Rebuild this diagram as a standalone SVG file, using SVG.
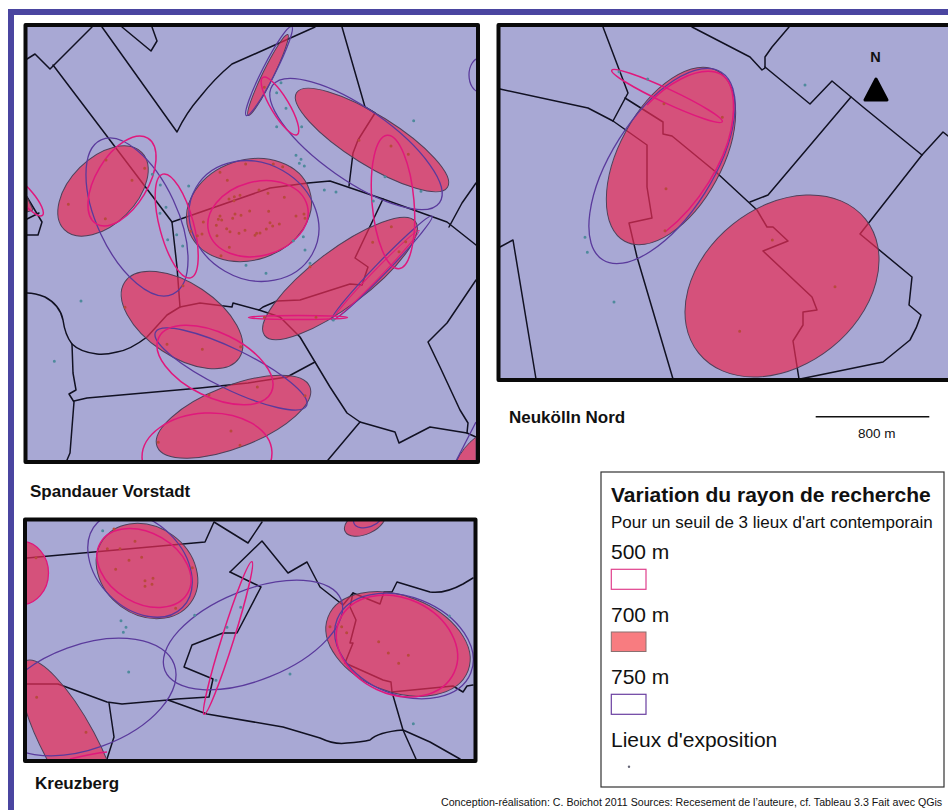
<svg xmlns="http://www.w3.org/2000/svg" width="948" height="810" viewBox="0 0 948 810">
<style>
text{font-family:"Liberation Sans",Arial,sans-serif;fill:#111}
.b{font-weight:bold}
.base{fill:#a8a8d4}
.frame{fill:none;stroke:#0a0a0a;stroke-width:4;stroke-linejoin:round}
.l{fill:none;stroke:#111122;stroke-width:1.5;stroke-linejoin:round;stroke-linecap:round}
.r{fill:#e82c56;fill-opacity:.7;stroke:#50405a;stroke-width:1}
.p{fill:none;stroke:#e0187c;stroke-width:1.5}
.v{fill:none;stroke:#5a3a9c;stroke-width:1.3}
.dt{fill:none;stroke:#4f8a9c;stroke-width:9;stroke-linecap:round}
.dr{fill:none;stroke:#b84a3c;stroke-width:9;stroke-linecap:round}
</style>
<defs>
<clipPath id="c1"><rect x="25.5" y="25" width="452.5" height="437"/></clipPath>
<clipPath id="c2"><rect x="498.5" y="25" width="460" height="355"/></clipPath>
<clipPath id="c3"><rect x="25" y="519.5" width="450.5" height="241.5"/></clipPath>
</defs>
<rect width="948" height="810" fill="#fff"/>
<path d="M11 810V12H948" fill="none" stroke="#4a45a0" stroke-width="6"/>

<g id="map-spandauer">
<rect class="base" x="25.5" y="25" width="452.5" height="437"/>
<g clip-path="url(#c1)">
<g id="spandauer-limits" class="l">
<path d="M27 59L35 54L50 69L92 27"/>
<path d="M53 65L172 222L177 267L180 307"/>
<path d="M102 27L177 132Q186 113 200 97Q215 78 232 64L257 53L315 27"/>
<path d="M122 27L151 51L157 41L152 27"/>
<path d="M342 27L365 107L375 113L358 140L353 153L349 186"/>
<path d="M172 222L270 188L308 183L330 181L383 199L447 222L476 245"/>
<path d="M383 199L355 258L368 267L362 285L350 284L300 300L277 301L263 307L259 310L233 303L232 307L200 303L180 307L167 315L147 337Q130 350 117 352Q105 355 97 354Q80 352 72 344Q65 335 63 320Q60 305 45 297Q35 293 27 293"/>
<path d="M72 344L73 373L76 390L69 394L74 402L70 453L67 460"/>
<path d="M74 401L87 398L200 388L248 383L287 377L315 362"/>
<path d="M259 310L280 317L300 337L315 362L330 387L347 413L360 422L395 432L399 443L430 427L467 433L476 437"/>
<path d="M360 422L328 460"/>
<path d="M476 280L447 323L428 342L440 367L460 410L468 423L467 433"/>
<path d="M449 227L462 203L476 183"/>
<path d="M27 197L42 222L38 235L27 235M27 219L39 213"/>
</g>
<g id="spandauer-700">
<ellipse class="r" cx="103" cy="191" rx="54.700" ry="33" transform="rotate(-45 103 191)"/>
<ellipse class="r" cx="249" cy="210" rx="63.700" ry="50" transform="rotate(-18.500 249 210)"/>
<ellipse class="r" cx="372" cy="140" rx="89" ry="25" transform="rotate(32 372 140)"/>
<ellipse class="r" cx="268" cy="75" rx="45" ry="5.500" transform="rotate(-64 268 75)"/>
<ellipse class="r" cx="182" cy="320" rx="68.700" ry="36.600" transform="rotate(33.600 182 320)"/>
<ellipse class="r" cx="340" cy="278.500" rx="94.500" ry="28" transform="rotate(-37 340 278.500)"/>
<ellipse class="r" cx="233.500" cy="416.700" rx="82" ry="31" transform="rotate(-21.300 233.500 416.700)"/>
<path class="r" d="M456 462Q463 447 476 437V462Z"/>
<path class="r" d="M27 197L33 210L27 212Z"/>
</g>
<g id="spandauer-750">
<ellipse class="v" cx="137" cy="217" rx="85" ry="40" transform="rotate(65 137 217)"/>
<ellipse class="v" cx="254" cy="221" rx="67" ry="58" transform="rotate(30 254 221)"/>
<ellipse class="v" cx="356" cy="144" rx="102" ry="36" transform="rotate(35 356 144)"/>
<ellipse class="v" cx="269" cy="71" rx="50" ry="6.500" transform="rotate(-63 269 71)"/>
<ellipse class="v" cx="480" cy="75" rx="11" ry="17"/>
<ellipse class="v" cx="231" cy="369" rx="84" ry="20" transform="rotate(26 231 369)"/>
<ellipse class="v" cx="382" cy="268" rx="72" ry="6" transform="rotate(-46 382 268)"/>
<path class="v" d="M456 461L476 422"/>
</g>
<g id="spandauer-500">
<ellipse class="p" cx="122" cy="181" rx="50" ry="26" transform="rotate(-59 122 181)"/>
<ellipse class="p" cx="176.700" cy="226" rx="53.700" ry="17" transform="rotate(75 176.700 226)"/>
<ellipse class="p" cx="258" cy="218.700" rx="51" ry="37" transform="rotate(-15 258 218.700)"/>
<ellipse class="p" cx="280" cy="106" rx="33.300" ry="9" transform="rotate(59 280 106)"/>
<ellipse class="p" cx="393" cy="202" rx="67" ry="21" transform="rotate(85 393 202)"/>
<ellipse class="p" cx="27" cy="197" rx="24" ry="7" transform="rotate(50 27 197)"/>
<ellipse class="p" cx="298" cy="317.500" rx="49.500" ry="2"/>
<ellipse class="p" cx="215" cy="365" rx="62.600" ry="32" transform="rotate(26 215 365)"/>
<ellipse class="p" cx="207" cy="455" rx="65" ry="42" transform="rotate(-3 207 455)"/>
<ellipse class="p" cx="376" cy="275" rx="62" ry="4" transform="rotate(-46 376 275)" style="stroke-width:1"/>
</g>
<g id="spandauer-lieux">
<path transform="scale(.33333)" class="dr" d="M318 480h0M434 505h0M396 541h0M205 613h0M316 656h0M660 517h0M737 492h0M820 492h0M848 500h0M682 541h0M777 570h0M804 580h0M853 592h0M687 597h0M703 590h0M720 586h0M702 602h0M749 633h0M806 634h0M723 646h0M705 642h0M698 655h0M660 648h0M665 660h0M655 658h0M610 666h0M649 676h0M680 686h0M690 695h0M735 691h0M717 700h0M651 707h0M606 702h0M592 707h0M572 694h0M688 742h0M663 767h0M770 700h0M765 706h0M780 699h0M799 687h0M818 678h0M838 672h0M810 668h0M888 648h0M912 642h0M915 655h0M1173 438h0M1225 463h0M1077 421h0M793 262h0M1174 680h0M1118 727h0M1197 755h0M1217 725h0M930 800h0"/>
<path transform="translate(0 250) scale(.33333)" class="dr" d="M549 107h0M375 172h0M501 283h0M607 298h0M722 290h0M772 411h0M627 435h0M915 437h0M693 543h0M720 586h0M475 577h0M948 202h0M793 202h0"/>
<path transform="scale(.33333)" class="dt" d="M843 248h0M830 278h0M858 325h0M830 380h0M905 380h0M1241 362h0M888 466h0M903 478h0M898 490h0M913 498h0M973 570h0M1008 576h0M1155 530h0M1263 574h0M1120 603h0M457 523h0M481 555h0M498 622h0M480 640h0M566 558h0M530 704h0M503 719h0M548 738h0M910 710h0M880 722h0M915 750h0M738 796h0M798 820h0M930 790h0"/>
<path transform="translate(0 250) scale(.33333)" class="dt" d="M243 153h0M163 334h0M1000 210h0"/>
</g>
</g>
<rect class="frame" x="25.500" y="25" width="452.500" height="437"/>
</g>

<g id="map-neukolln">
<rect class="base" x="498.500" y="25" width="460" height="355"/>
<g clip-path="url(#c2)">
<g id="neukolln-limits" class="l">
<path d="M603 27L628 93L613 121"/>
<path d="M500 89L588 108L613 121L647 145L647 187L652 218L629 223L637 257L673 379"/>
<path d="M625 98L663 122L663 134L672 136L717 173L757 210L767 227L773 227L788 241L763 251L812 297L817 310L803 312L803 325L793 341L799 379"/>
<path d="M692 27L750 57L762 70L765 68L765 57L772 47L789 27"/>
<path d="M765 67L810 104L832 81L863 107L922 155L943 132L948 136"/>
<path d="M851 97L768 195L750 202"/>
<path d="M922 155L860 234L912 277L909 305L921 315Q917 328 910 340L883 362L800 379"/>
<path d="M500 247L513 240L536 379"/>
</g>
<g id="neukolln-700">
<ellipse class="r" cx="782" cy="286" rx="107" ry="79" transform="rotate(-38.700 782 286)"/>
<ellipse class="r" cx="671" cy="156" rx="97" ry="51.400" transform="rotate(-61.500 671 156)"/>
</g>
<g id="neukolln-750"><ellipse class="v" cx="662" cy="166" rx="111" ry="50.600" transform="rotate(-57.700 662 166)"/></g>
<g id="neukolln-500">
<path class="p" d="M647 105C668 83 695 68 715 72C735 76 736 105 731 130C725 160 700 205 665 232"/>
<ellipse class="p" cx="667" cy="96" rx="61" ry="7" transform="rotate(25 667 96)"/>
</g>
<g id="neukolln-lieux">
<path transform="translate(490 10) scale(.33333)" class="dr" d="M522 281h0M697 322h0M528 536h0M525 662h0M847 690h0M1035 830h0M749 964h0"/>
<path transform="translate(490 10) scale(.33333)" class="dt" d="M945 225h0M473 207h0M387 185h0M285 682h0M292 727h0M372 876h0"/>
</g>
</g>
<rect class="frame" x="498.500" y="25" width="460" height="355"/>
</g>

<g id="map-kreuzberg">
<rect class="base" x="25" y="519.500" width="450.500" height="241.500"/>
<g clip-path="url(#c3)">
<g id="kreuzberg-limits" class="l">
<path d="M27 558L205 542L214 522L248 543L262 522"/>
<path d="M230 572L262 541L288 573L307 562L320 587L343 605L353 593L380 604L384 592L392 592L397 582L430 592Q445 594 463 584L473 578"/>
<path d="M230 572L261 587L237 633L223 633L192 645L184 667L213 679L209 697L177 699L168 700L122 704L107 702L58 684L27 684"/>
<path d="M168 700L207 714L283 727L320 738Q335 745 347 743Q362 742 370 740Q378 732 403 730L430 742L460 759"/>
<path d="M392 692L403 730L416 759"/>
<path d="M109 703L114 737L107 759"/>
<path d="M353 593L350 607L356 620L350 643L353 643L345 663L383 680L391 682L392 692L453 686L463 692L467 686L473 685"/>
</g>
<g id="kreuzberg-700">
<ellipse class="r" cx="147" cy="571" rx="54" ry="44" transform="rotate(36 147 571)"/>
<ellipse class="r" cx="20" cy="573" rx="28.500" ry="32" style="stroke:#e0187c;stroke-width:1.300"/>
<ellipse class="r" cx="398" cy="644" rx="75" ry="48" transform="rotate(21 398 644)"/>
<ellipse class="r" cx="365" cy="522" rx="22" ry="12" transform="rotate(-25 365 522)"/>
<ellipse class="r" cx="70" cy="745" rx="95" ry="27" transform="rotate(62 70 745)"/>
</g>
<g id="kreuzberg-750">
<ellipse class="v" cx="140" cy="565" rx="60" ry="43" transform="rotate(45 140 565)"/>
<ellipse class="v" cx="253" cy="635" rx="95" ry="45" transform="rotate(-22 253 635)"/>
<ellipse class="v" cx="85" cy="697" rx="95" ry="52" transform="rotate(-20 85 697)"/>
<ellipse class="v" cx="404" cy="646" rx="72" ry="49" transform="rotate(22 404 646)"/>
<ellipse class="v" cx="368" cy="518" rx="15" ry="9" transform="rotate(-20 368 518)"/>
</g>
<g id="kreuzberg-500">
<ellipse class="p" cx="144" cy="568" rx="50.400" ry="35" transform="rotate(30 144 568)"/>
<ellipse class="p" cx="228" cy="638" rx="80" ry="6" transform="rotate(-72.600 228 638)"/>
<ellipse class="p" cx="397" cy="646" rx="63" ry="48" transform="rotate(25 397 646)"/>
<path class="p" d="M70 759Q95 753 107 752"/>
</g>
<g id="kreuzberg-lieux">
<path transform="translate(0 510) scale(.33333)" class="dr" d="M342 57h0M405 94h0M322 116h0M360 116h0M387 151h0M425 142h0M347 178h0M435 212h0M459 205h0M435 229h0M456 223h0M577 173h0M527 295h0M108 143h0M110 562h0M258 667h0M990 350h0M1040 368h0M1025 350h0M1136 395h0M1165 429h0M1225 436h0M1196 460h0"/>
<path transform="translate(0 510) scale(.33333)" class="dt" d="M308 62h0M363 332h0M378 352h0M370 367h0M386 486h0M584 316h0M722 292h0M681 352h0M648 511h0M1348 318h0M1240 641h0M870 492h0"/>
</g>
</g>
<rect class="frame" x="25" y="519.500" width="450.500" height="241.500"/>
</g>

<g id="north">
<text class="b" x="875.500" y="62" font-size="14.500" text-anchor="middle">N</text>
<path d="M876 79L887 100H865Z" fill="#000" stroke="#000" stroke-width="3" stroke-linejoin="round"/>
</g>
<g id="scale">
<path d="M815.700 416.700H929.300" stroke="#111" stroke-width="1.500"/>
<text x="876.700" y="437.500" font-size="13.500" text-anchor="middle">800 m</text>
</g>
<text class="b" x="30" y="496.700" font-size="17">Spandauer Vorstadt</text>
<text class="b" x="509" y="422.700" font-size="17">Neukölln Nord</text>
<text class="b" x="35" y="789" font-size="17">Kreuzberg</text>

<g id="legend">
<rect x="601" y="472" width="343" height="315" fill="#fff" stroke="#333" stroke-width="1.200"/>
<text class="b" x="611" y="502" font-size="21">Variation du rayon de recherche</text>
<text x="611" y="528" font-size="17">Pour un seuil de 3 lieux d'art contemporain</text>
<text x="611" y="559" font-size="21">500 m</text>
<rect x="611.300" y="569.300" width="34.700" height="20" fill="#fff" stroke="#e0408c" stroke-width="1.200"/>
<text x="611" y="621.700" font-size="21">700 m</text>
<rect x="611.300" y="632" width="34.700" height="19.500" fill="#f87c80" stroke="#8a7070" stroke-width="1"/>
<text x="611" y="684" font-size="21">750 m</text>
<rect x="611.300" y="694.300" width="34.700" height="20" fill="#fff" stroke="#6a3fa0" stroke-width="1.200"/>
<text x="611" y="746.700" font-size="21">Lieux d'exposition</text>
<circle cx="629" cy="766.700" r="1.200" fill="#667"/>
</g>
<text x="441" y="805.500" font-size="10.650">Conception-réalisation: C. Boichot 2011 Sources: Recesement de l’auteure, cf. Tableau 3.3 Fait avec QGis</text>
</svg>
